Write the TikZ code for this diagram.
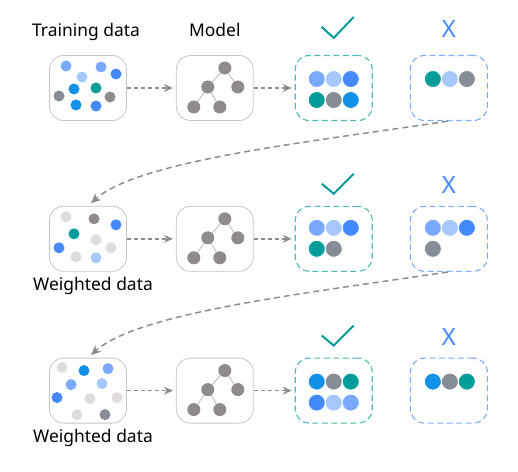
\documentclass[tikz,border=0pt]{standalone}
\usepackage{fontspec}
\setmainfont{Noto Sans}
\usetikzlibrary{arrows.meta,positioning,calc}

\definecolor{cblue}{HTML}{4589FF}
\definecolor{cmid}{HTML}{78A9FF}
\definecolor{clight}{HTML}{A6C8FF}
\definecolor{ccyan}{HTML}{1192E8}
\definecolor{cteal}{HTML}{009D9A}
\definecolor{cgray}{HTML}{878D96}
\definecolor{warm}{HTML}{8F8B8B}
\definecolor{faint}{HTML}{E0DCDC}
\definecolor{boxline}{HTML}{C6C6C6}
\definecolor{hitline}{HTML}{4FB9B3}
\definecolor{missline}{HTML}{7FABFF}
\definecolor{arrowgray}{HTML}{8D8D8D}
\definecolor{twigline}{HTML}{B5B2B2}

\tikzset{
  databox/.style={draw=boxline, line width=0.8bp, rounded corners=14bp, fill=white,
    minimum width=77bp, minimum height=65bp, inner sep=0pt},
  hitbox/.style={databox, draw=hitline, line width=1.1bp, dash pattern=on 6bp off 3.5bp},
  missbox/.style={databox, draw=missline, line width=1.1bp, dash pattern=on 6bp off 3.5bp},
  lbl/.style={font=\fontsize{17.5}{20}\selectfont, inner sep=0pt},
  cross/.style={text=cblue, font=\fontsize{24}{28}\selectfont, inner sep=0pt},
  tick/.style={draw=cteal, line width=2bp},
  knot/.style={circle, fill=warm, minimum size=13bp, inner sep=0pt},
  twig/.style={draw=twigline, line width=0.7bp},
  flow/.style={draw=arrowgray, line width=1.4bp, dash pattern=on 4bp off 3bp,
    -{Stealth[length=9bp,width=8bp]}, shorten >=3bp},
  back/.style={draw=arrowgray, line width=1.5bp, dash pattern=on 6bp off 4bp,
    -{Stealth[length=10bp,width=9bp]}, shorten >=4bp, shorten <=1bp},
  ball/.style={draw=white, line width=0.8bp}
}

\begin{document}
\begin{tikzpicture}[x=1bp, y=-1bp]
  \useasboundingbox (0,0) rectangle (518,472);

  % three rows of boxes
  \node[databox] (data1)  at (88,88)             {};
  \node[databox] (model1) [right=49bp of data1]  {};
  \node[hitbox]  (hit1)   [right=41bp of model1] {};
  \node[missbox] (miss1)  [right=37bp of hit1]   {};
  \node[databox] (data2)  [below=85bp of data1]  {};
  \node[databox] (model2) [right=49bp of data2]  {};
  \node[hitbox]  (hit2)   [right=41bp of model2] {};
  \node[missbox] (miss2)  [right=37bp of hit2]   {};
  \node[databox] (data3)  [below=86bp of data2]  {};
  \node[databox] (model3) [right=49bp of data3]  {};
  \node[hitbox]  (hit3)   [right=41bp of model3] {};
  \node[missbox] (miss3)  [right=37bp of hit3]   {};

  % labels
  \node[lbl, above=19bp of data1, anchor=base, xshift=-2bp] (train)   {Training data};
  \node[lbl, above=19bp of model1, anchor=base]             (modelt)  {Model};
  \node[lbl, below=19bp of data2, anchor=base, xshift=5bp]  (weight2) {Weighted data};
  \node[lbl, below=19bp of data3, anchor=base, xshift=5bp]  (weight3) {Weighted data};
  \node[cross, above=17bp of miss1, anchor=base] (x1) {X};
  \node[cross, above=12bp of miss2, anchor=base] (x2) {X};
  \node[cross, above=12bp of miss3, anchor=base] (x3) {X};
  \draw[tick] ($(hit1.north)+(-12,-28)$) -- ++(12,11) -- ++(20,-21);
  \draw[tick] ($(hit2.north)+(-12,-22)$) -- ++(12,10) -- ++(20,-20);
  \draw[tick] ($(hit3.north)+(-12,-22)$) -- ++(12,10) -- ++(20,-20);

  % decision trees
  \foreach \r in {1,2,3} {
    \begin{scope}[shift={(model\r.center)}]
      \node[knot] (top\r)   at (10,-20) {};
      \node[knot] (left\r)  at (-7,-1)  {};
      \node[knot] (right\r) at (23,-1)  {};
      \node[knot] (ll\r)    at (-21,19) {};
      \node[knot] (lr\r)    at (5,19)   {};
    \end{scope}
    \draw[twig] (top\r) -- (left\r) (top\r) -- (right\r)
                (left\r) -- (ll\r) (left\r) -- (lr\r);
    \draw[flow] (data\r) -- (model\r);
    \draw[flow] (model\r) -- (hit\r);
  }

  % data points
  \begin{scope}[shift={(data1.center)}]
    \foreach \dx/\dy/\c in {-22/-22/cmid, -6/-11/clight, 13/-21/cmid, 28/-14/cblue,
        -14/1/ccyan, 8/0/cteal, -29/8/cgray, 22/9/warm, -12/17/ccyan, 8/18/cblue}
      \fill[fill=\c] (\dx,\dy) circle (5.5bp);
  \end{scope}
  \begin{scope}[shift={(data2.center)}]
    \foreach \dx/\dy/\c in {-22/-22/faint, 6/-20/warm, 28/-14/cblue, -14/-5/cteal,
        8/1/faint, -29/9/cblue, 23/9/faint, -12/18/faint, 8/19/clight}
      \fill[fill=\c] (\dx,\dy) circle (5.5bp);
  \end{scope}
  \begin{scope}[shift={(data3.center)}]
    \foreach \dx/\dy/\c in {-26/-23/faint, -4/-20/ccyan, 20/-22/cmid, -17/-6/cmid,
        14/-7/clight, -31/7/cblue, 2/8/faint, 29/7/faint, -11/24/faint, 17/24/cgray}
      \fill[fill=\c] (\dx,\dy) circle (5.5bp);
  \end{scope}

  % right and wrong predictions
  \begin{scope}[shift={(hit1.center)}]
    \foreach \dx/\dy/\c in {-17/-9/cmid, 0/-9/clight, 17/-9/cblue,
        -17/12/cteal, 0/12/cgray, 17/12/ccyan}
      \filldraw[ball, fill=\c] (\dx,\dy) circle (8.5bp);
  \end{scope}
  \begin{scope}[shift={(miss1.center)}]
    \foreach \dx/\dy/\c in {-16/-9/cteal, 1/-9/clight, 18/-9/cgray}
      \filldraw[ball, fill=\c] (\dx,\dy) circle (8.5bp);
  \end{scope}
  \begin{scope}[shift={(hit2.center)}]
    \foreach \dx/\dy/\c in {-17/-11/cmid, 0/-11/clight, 17/-11/cblue,
        -17/10/cteal, 0/10/cgray}
      \filldraw[ball, fill=\c] (\dx,\dy) circle (8.5bp);
  \end{scope}
  \begin{scope}[shift={(miss2.center)}]
    \foreach \dx/\dy/\c in {-16/-11/cmid, 1/-11/clight, 18/-11/cblue, -16/10/cgray}
      \filldraw[ball, fill=\c] (\dx,\dy) circle (8.5bp);
  \end{scope}
  \begin{scope}[shift={(hit3.center)}]
    \foreach \dx/\dy/\c in {-17/-9/ccyan, 0/-9/cgray, 17/-9/cteal,
        -17/12/cblue, 0/12/clight, 17/12/cmid}
      \filldraw[ball, fill=\c] (\dx,\dy) circle (8.5bp);
  \end{scope}
  \begin{scope}[shift={(miss3.center)}]
    \foreach \dx/\dy/\c in {-16/-9/ccyan, 1/-9/cgray, 18/-9/cteal}
      \filldraw[ball, fill=\c] (\dx,\dy) circle (8.5bp);
  \end{scope}

  % reweighting loops
  \draw[back] (miss1.south) .. controls ($(miss1.south)+(-147,22)$)
    and ($(data2.north)+(50,-45)$) .. (data2.north);
  \draw[back] (miss2.south) .. controls ($(miss2.south)+(-147,22)$)
    and ($(data3.north)+(50,-45)$) .. (data3.north);
\end{tikzpicture}
\end{document}
